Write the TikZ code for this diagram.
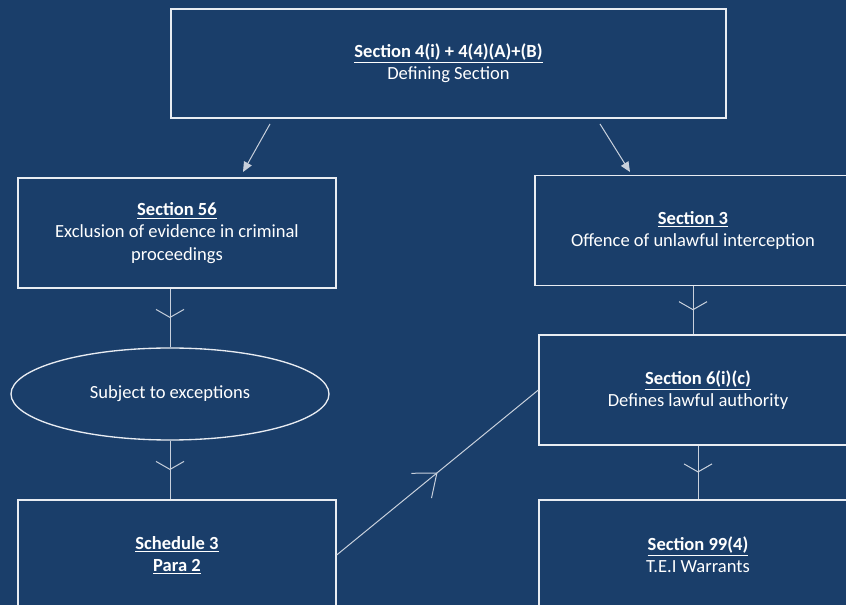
\documentclass[tikz,border=0pt]{standalone}
\usepackage{fontspec}
\setmainfont{Carlito}
\usetikzlibrary{arrows.meta,decorations.markings,shapes.geometric}
\definecolor{bg}{RGB}{26,62,106}
\definecolor{edge}{RGB}{232,236,242}
\definecolor{conn}{RGB}{200,208,220}
\tikzset{
  box/.style={draw=edge, line width=1pt, rectangle, inner sep=0pt, align=center, text=white, font=\fontsize{13.9}{16.6}\selectfont},
  ovalbox/.style={draw=edge, line width=1pt, ellipse, inner sep=0pt, align=center, text=white, font=\fontsize{13.9}{16.6}\selectfont},
  plainarrow/.style={draw=conn, line width=0.75pt, -{Triangle[length=7.5pt,width=6.5pt]}},
  midbarb/.style={draw=conn, line width=0.75pt, decoration={markings, mark=at position 0.5 with {\arrow[conn,line width=0.75pt]{Straight Barb[length=6pt,width=21pt]}}}, postaction={decorate}},
  diagbarb/.style={draw=conn, line width=0.75pt, decoration={markings, mark=at position 0.5 with {\arrow[conn,line width=0.75pt]{Straight Barb[length=15pt,width=24pt]}}}, postaction={decorate}}
}
\newcommand{\hd}[1]{\underline{\textbf{#1}}}
\begin{document}
\begin{tikzpicture}[x=0.75pt,y=-0.75pt]
\fill[bg] (0,0) rectangle (846,605);
\useasboundingbox (0,0) rectangle (846,605);
\clip (0,0) rectangle (846,605);
\node[box, minimum width=416.25pt, minimum height=81.75pt] (top) at (448.5,63.5) {\hd{Section 4(i) + 4(4)(A)+(B)}\\Defining Section};
\node[box, minimum width=238.5pt, minimum height=82.5pt] (s56) at (177,233) {\hd{Section 56}\\Exclusion of evidence in criminal\\proceedings};
\node[box, minimum width=237pt, minimum height=82.5pt] (s3) at (693,230.5) {\hd{Section 3}\\Offence of unlawful interception};
\node[box, minimum width=238.5pt, minimum height=82.5pt] (s6) at (698,390) {\hd{Section 6(i)(c)}\\Defines lawful authority};
\node[ovalbox, minimum width=238.5pt, minimum height=69pt] (ex) at (170,394) {Subject to exceptions};
\node[box, minimum width=238.5pt, minimum height=82.5pt] (sch) at (177,555) {\hd{Schedule 3}\\\hd{Para 2}};
\node[box, minimum width=238.5pt, minimum height=82.5pt] (s99) at (698,555) {\hd{Section 99(4)}\\T.E.I Warrants};
\coordinate (a1s) at (270,124);
\coordinate (a1e) at (243,172);
\coordinate (a2s) at (600,124);
\coordinate (a2e) at (630,172);
\draw[plainarrow] (a1s) -- (a1e);
\draw[plainarrow] (a2s) -- (a2e);
\draw[midbarb] (ex.north |- s56.south) -- (ex.north);
\draw[midbarb] (ex.south) -- (ex.south |- sch.north);
\draw[midbarb] (s3.south) -- (s3.south |- s6.north);
\draw[midbarb] (s6.south) -- (s99.north);
\draw[diagbarb] (sch.east) -- (s6.west);
\end{tikzpicture}
\end{document}
